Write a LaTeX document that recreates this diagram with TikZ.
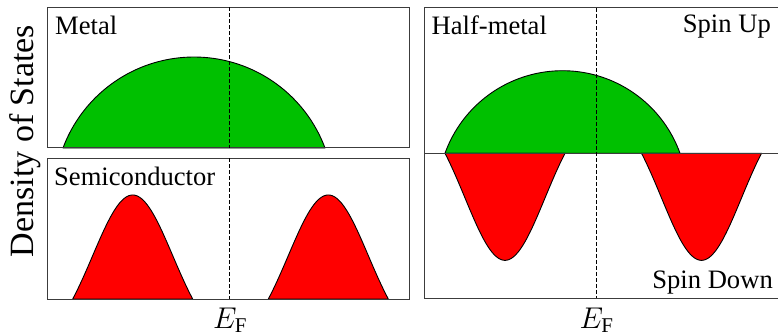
\RequirePackage{fix-cm}
\documentclass[tikz,border=0pt]{standalone}
\usepackage{fontspec}
\setmainfont{LiberationSerif}[Extension=.ttf, UprightFont=*-Regular, ItalicFont=*-Italic, BoldFont=*-Bold, BoldItalicFont=*-BoldItalic]
\definecolor{dosgreen}{RGB}{0,192,0}
\definecolor{dosred}{RGB}{255,0,0}
\definecolor{frame}{RGB}{60,60,60}
\tikzset{
  panel/.style={draw=frame, line width=1pt},
  fermi/.style={draw=black, line width=1pt, dash pattern=on 4pt off 2pt},
  band/.style={draw=black, line width=0.9pt, line join=round},
  lbl/.style={font=\rmfamily\fontsize{26.6}{30}\selectfont, inner sep=0pt, anchor=base west},
  rlbl/.style={font=\rmfamily\fontsize{26.6}{30}\selectfont, inner sep=0pt, anchor=base east},
  ef/.style={font=\rmfamily\fontsize{30}{34}\selectfont, inner sep=0pt, anchor=base},
}
\begin{document}
\begin{tikzpicture}[x=1pt,y=-1pt]
\useasboundingbox (0,0) rectangle (778,336);
% ---- Metal: circle segment
\filldraw[band, fill=dosgreen] plot[domain=159.57:20.43, samples=80, smooth]
  ({194+139.8*cos(\x)},{196.8-139.8*sin(\x)}) -- cycle;
% ---- Semiconductor: truncated gaussian bumps
\foreach \c in {132.7,328.3}{
  \filldraw[band, fill=dosred] plot[domain=-60:60, samples=80, smooth]
    ({\c+\x},{299-104*(exp(-(\x*\x)/3200)-0.32465)/0.67535}) -- cycle;
}
% ---- Half-metal spin up
\filldraw[band, fill=dosgreen] plot[domain=160.2:19.8, samples=80, smooth]
  ({562.5+124.9*cos(\x)},{195.6-124.9*sin(\x)}) -- cycle;
% ---- Half-metal spin down lobes
\foreach \c in {505,701.5}{
  \filldraw[band, fill=dosred] plot[domain=-60:60, samples=80, smooth]
    ({\c+\x},{153.3+107*(exp(-(\x*\x)/3200)-0.32465)/0.67535}) -- cycle;
}
% ---- frames
\draw[panel] (47.7,7.5) rectangle (409,148);
\draw[panel] (47.7,158.3) rectangle (409,299);
\draw[panel] (790,8) -- (424,8) -- (424,298) -- (790,298);
\draw[draw=frame, line width=0.9pt] (424,153.3) -- (790,153.3);
% ---- Fermi levels
\draw[fermi] (229,7.5) -- (229,148);
\draw[fermi] (229,158.3) -- (229,299);
\draw[fermi] (596.7,8) -- (596.7,298);
% ---- labels
\node[lbl] (metal) at (55,35) {Metal};
\node[lbl] (semi) at (54,186) {Semiconductor};
\node[lbl] (half) at (431.5,35) {Half-metal};
\node[rlbl] (up) at (771,33) {Spin Up};
\node[rlbl] (down) at (773,288) {Spin Down};
\node[font=\rmfamily\fontsize{34}{38}\selectfont, inner sep=0pt, rotate=90, anchor=base] (dos) at (33.5,141) {Density of States};
\node[ef] (ef1) at (230,328) {$E_{\mathrm{F}}$};
\node[ef] (ef2) at (596.5,328) {$E_{\mathrm{F}}$};
\end{tikzpicture}
\end{document}
